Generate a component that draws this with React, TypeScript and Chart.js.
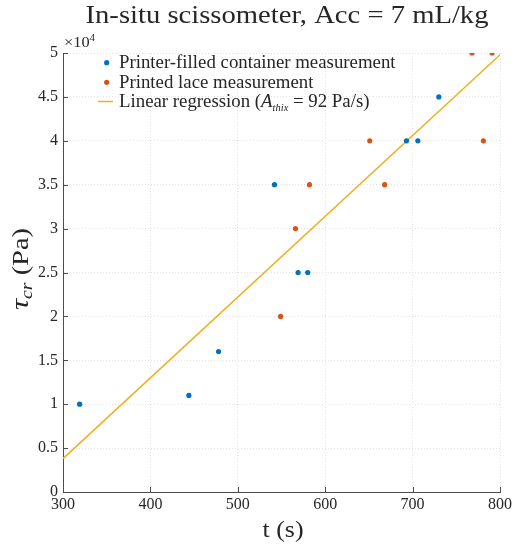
import React, { useEffect, useRef } from "react";
import { Chart, registerables } from "chart.js";

Chart.register(...registerables);

const containerT = [319, 444, 478, 542, 569, 580, 693, 706, 730];
const containerTau = [10000, 11000, 16000, 35000, 25000, 25000, 40000, 40000, 45000];
const laceT = [549, 566, 582, 651, 668, 768, 781, 791];
const laceTau = [20000, 30000, 35000, 40000, 35000, 50000, 40000, 50000];
const fitT = [300, 800];
const fitTau = [3800, 49800];
const xTicks = [300, 400, 500, 600, 700, 800];
const yTicks = [0, 5000, 10000, 15000, 20000, 25000, 30000, 35000, 40000, 45000, 50000];

const BLUE = "#0072BD";
const ORANGE = "#D95319";
const YELLOW = "#EDB120";
const TXT = "#262626";
const AXIS = "#4d4d4d";
const SERIF = "'Liberation Serif', 'DejaVu Serif', serif";

type Seg = { t: string; size: number; italic?: boolean; dy?: number };

function drawRich(
  ctx: CanvasRenderingContext2D,
  segs: Seg[],
  x: number,
  y: number,
  align: "left" | "center",
  targetWidth?: number
) {
  const widths = segs.map((s) => {
    ctx.font = `${s.italic ? "italic " : ""}${s.size}px ${SERIF}`;
    return ctx.measureText(s.t).width;
  });
  const total = widths.reduce((a, b) => a + b, 0);
  const sx = targetWidth ? targetWidth / total : 1;
  ctx.save();
  ctx.translate(x, y);
  ctx.scale(sx, 1);
  let cx = align === "center" ? -total / 2 : 0;
  ctx.textAlign = "left";
  ctx.textBaseline = "alphabetic";
  segs.forEach((s, i) => {
    ctx.font = `${s.italic ? "italic " : ""}${s.size}px ${SERIF}`;
    ctx.fillText(s.t, cx, s.dy || 0);
    cx += widths[i];
  });
  ctx.restore();
}

const annot = {
  id: "annot",
  afterDraw(chart: any) {
    const ctx = chart.ctx as CanvasRenderingContext2D;
    const { left, bottom } = chart.chartArea;
    const xs = chart.scales.x;
    const ys = chart.scales.y;
    ctx.save();
    // inner ticks
    ctx.strokeStyle = AXIS;
    ctx.lineWidth = 1;
    ctx.beginPath();
    yTicks.forEach((v) => {
      const py = Math.round(ys.getPixelForValue(v)) + 0.5;
      ctx.moveTo(left, py);
      ctx.lineTo(left + 5, py);
    });
    xTicks.forEach((v) => {
      const px = Math.round(xs.getPixelForValue(v)) + 0.5;
      ctx.moveTo(px, bottom);
      ctx.lineTo(px, bottom - 5);
    });
    ctx.stroke();

    ctx.fillStyle = TXT;
    // title
    drawRich(ctx, [{ t: "In-situ scissometer, Acc = 7 mL/kg", size: 26 }], 287, 23, "center", 403);
    // x title
    drawRich(ctx, [{ t: "t (s)", size: 23 }], 283, 537, "center", 41);
    // y title
    ctx.save();
    ctx.translate(28, 269);
    ctx.rotate(-Math.PI / 2);
    drawRich(
      ctx,
      [
        { t: "τ", size: 25, italic: true },
        { t: "cr", size: 16, italic: true, dy: 4 },
        { t: " (Pa)", size: 23 },
      ],
      0,
      0,
      "center",
      82
    );
    ctx.restore();
    // exponent
    drawRich(
      ctx,
      [
        { t: "×10", size: 15 },
        { t: "4", size: 10, dy: -6 },
      ],
      64,
      47,
      "left",
      31
    );
    // legend
    const lx = 119;
    const rows = [68, 88, 107];
    ctx.fillStyle = BLUE;
    ctx.beginPath();
    ctx.arc(106.7, 62.7, 2.6, 0, Math.PI * 2);
    ctx.fill();
    ctx.fillStyle = ORANGE;
    ctx.beginPath();
    ctx.arc(106.7, 82.3, 2.6, 0, Math.PI * 2);
    ctx.fill();
    ctx.strokeStyle = YELLOW;
    ctx.lineWidth = 1.5;
    ctx.beginPath();
    ctx.moveTo(98, 101.5);
    ctx.lineTo(113, 101.5);
    ctx.stroke();
    ctx.fillStyle = TXT;
    const sc = 276 / 264;
    ctx.save();
    ctx.translate(lx, 0);
    ctx.scale(sc, 1);
    drawRich(ctx, [{ t: "Printer-filled container measurement", size: 18 }], 0, rows[0], "left");
    drawRich(ctx, [{ t: "Printed lace measurement", size: 18 }], 0, rows[1], "left");
    drawRich(
      ctx,
      [
        { t: "Linear regression (", size: 18 },
        { t: "A", size: 18, italic: true },
        { t: "thix", size: 10, italic: true, dy: 4 },
        { t: " = 92 Pa/s)", size: 18 },
      ],
      0,
      rows[2],
      "left"
    );
    ctx.restore();
    ctx.restore();
  },
};

export default function App() {
  const ref = useRef<HTMLCanvasElement>(null);
  useEffect(() => {
    if (!ref.current) return;
    const chart = new Chart(ref.current, {
      type: "scatter",
      data: {
        datasets: [
          {
            label: "Printer-filled container measurement",
            data: containerT.map((t, i) => ({ x: t, y: containerTau[i] })),
            backgroundColor: BLUE,
            borderWidth: 0,
            pointRadius: 2.6,
            order: 1,
          },
          {
            label: "Printed lace measurement",
            data: laceT.map((t, i) => ({ x: t, y: laceTau[i] })),
            backgroundColor: ORANGE,
            borderWidth: 0,
            pointRadius: 2.6,
            order: 2,
          },
          {
            type: "line",
            label: "Linear regression",
            data: fitT.map((t, i) => ({ x: t, y: fitTau[i] })),
            borderColor: YELLOW,
            borderWidth: 1.5,
            pointRadius: 0,
            showLine: true,
            fill: false,
            order: 3,
          } as any,
        ],
      },
      options: {
        animation: false,
        responsive: false,
        maintainAspectRatio: false,
        layout: { padding: { left: 0, right: 12, top: 53, bottom: 0 } },
        plugins: { legend: { display: false }, title: { display: false }, tooltip: { enabled: false } },
        scales: {
          x: {
            type: "linear",
            min: 300,
            max: 800,
            afterFit: (s: any) => {
              s.height = 54;
            },
            afterBuildTicks: (s: any) => {
              s.ticks = xTicks.map((v) => ({ value: v }));
            },
            ticks: {
              padding: 3,
              color: TXT,
              font: { family: SERIF, size: 16 },
              maxRotation: 0,
              autoSkip: false,
            },
            grid: { color: "#e3e3e3", drawTicks: false, lineWidth: 1 },
            border: { display: true, color: AXIS, width: 1, dash: [1, 2] },
          },
          y: {
            type: "linear",
            min: 0,
            max: 50000,
            afterFit: (s: any) => {
              s.width = 63;
            },
            afterBuildTicks: (s: any) => {
              s.ticks = yTicks.map((v) => ({ value: v }));
            },
            ticks: {
              padding: 5,
              color: TXT,
              font: { family: SERIF, size: 16 },
              autoSkip: false,
              callback: (v: any) => String(Number(v) / 10000),
            },
            grid: { color: "#e3e3e3", drawTicks: false, lineWidth: 1 },
            border: { display: true, color: AXIS, width: 1, dash: [1, 2] },
          },
        },
      },
      plugins: [annot],
    });
    return () => chart.destroy();
  }, []);
  return (
    <div style={{ position: "fixed", left: 0, top: 0, width: 515, height: 546, background: "#fff" }}>
      <canvas ref={ref} width={515} height={546} style={{ width: 515, height: 546 }} />
    </div>
  );
}
